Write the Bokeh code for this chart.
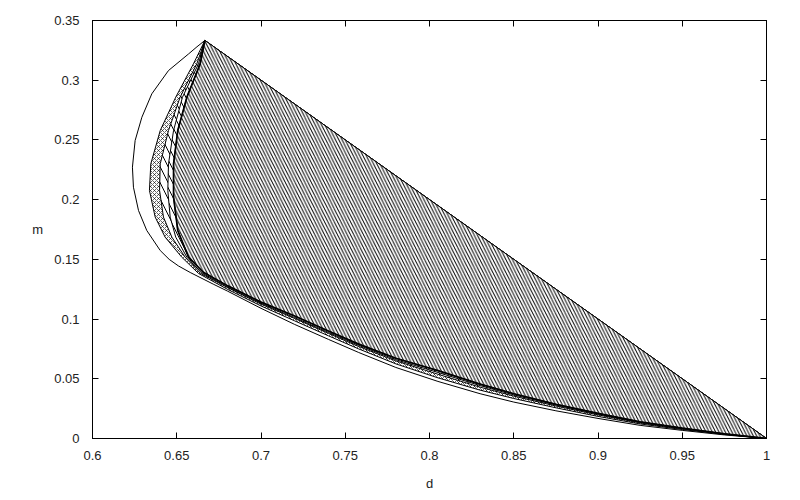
from bokeh.plotting import figure
from bokeh.models import FixedTicker, LinearAxis, Label, Range1d
from bokeh.embed import file_html
from bokeh.resources import INLINE

# ---- data ----
x_ticks = [0.6, 0.65, 0.7, 0.75, 0.8, 0.85, 0.9, 0.95, 1.0]
x_tick_labels = ["0.6", "0.65", "0.7", "0.75", "0.8", "0.85", "0.9", "0.95", "1"]
y_ticks = [0.0, 0.05, 0.1, 0.15, 0.2, 0.25, 0.3, 0.35]
y_tick_labels = ["0", "0.05", "0.1", "0.15", "0.2", "0.25", "0.3", "0.35"]

# lower-branch d positions shared by all curves
low_d = [0.68, 0.70, 0.72, 0.74, 0.758, 0.78, 0.805, 0.83, 0.85, 0.875, 0.9, 0.925, 0.95, 0.975, 1.0]

# outermost curve (outline only)
a_up_d = [0.6667, 0.662, 0.657, 0.6451, 0.6352, 0.6293, 0.6253, 0.6237, 0.6243, 0.6273, 0.6322,
          0.6402, 0.6455, 0.651, 0.658, 0.665, 0.672]
a_up_m = [0.3333, 0.328, 0.322, 0.3081, 0.2886, 0.269, 0.2495, 0.2272, 0.2104, 0.1909, 0.1742,
          0.1574, 0.150, 0.1445, 0.139, 0.134, 0.129]
a_low_m = [0.1235, 0.109, 0.0955, 0.083, 0.072, 0.0595, 0.0478, 0.0375, 0.0305, 0.0232, 0.0168,
           0.011, 0.0068, 0.003, 0.0]

# second curve (cross-hatched region)
b_up_d = [0.6667, 0.6599, 0.6494, 0.6402, 0.6346, 0.6338, 0.6372, 0.6431, 0.653, 0.6629]
b_up_m = [0.3333, 0.3137, 0.2858, 0.2579, 0.23, 0.2077, 0.1854, 0.1686, 0.1518, 0.1382]
b_low_m = [0.125, 0.111, 0.0985, 0.086, 0.075, 0.0625, 0.0508, 0.0405, 0.0335, 0.0257, 0.0185,
           0.0122, 0.0075, 0.0034, 0.0]

# third curve (sparse hatch region)
c_up_d = [0.6667, 0.6619, 0.652, 0.6451, 0.6402, 0.6398, 0.6421, 0.6471, 0.655, 0.6639]
c_up_m = [0.3333, 0.3137, 0.2858, 0.2579, 0.23, 0.2077, 0.1854, 0.1686, 0.1518, 0.1385]
c_low_m = [0.1265, 0.1125, 0.1005, 0.088, 0.077, 0.065, 0.0538, 0.043, 0.0355, 0.0272, 0.0198,
           0.0131, 0.0081, 0.0037, 0.0]

# fourth curve
d_up_d = [0.6667, 0.6629, 0.6534, 0.6481, 0.6451, 0.6447, 0.6461, 0.6494, 0.656, 0.6645]
d_up_m = [0.3333, 0.3137, 0.2858, 0.2579, 0.23, 0.2077, 0.1854, 0.1686, 0.1518, 0.139]
d_low_m = [0.127, 0.1132, 0.1012, 0.0888, 0.078, 0.066, 0.0553, 0.0443, 0.0365, 0.028, 0.0205,
           0.0135, 0.0084, 0.0038, 0.0]

# innermost curve (densely hatched region, closed by the line m = 1 - d)
e_up_d = [0.6667, 0.6639, 0.656, 0.6506, 0.6481, 0.6481, 0.6506, 0.657, 0.6655]
e_up_m = [0.3333, 0.3137, 0.2858, 0.2579, 0.23, 0.2021, 0.1742, 0.1518, 0.1395]
e_low_m = [0.128, 0.1142, 0.1025, 0.09, 0.079, 0.0672, 0.0568, 0.0455, 0.0375, 0.0287, 0.021,
           0.0139, 0.0087, 0.004, 0.0]

FONT = "Liberation Sans"
TXT = "#222222"

p = figure(width=790, height=494, output_backend="svg", toolbar_location=None,
           x_range=Range1d(0.6, 1.0), y_range=Range1d(0.0, 0.35),
           min_border_left=92, min_border_right=24, min_border_top=20, min_border_bottom=56)
p.grid.visible = False
p.outline_line_color = "black"
p.outline_line_width = 1
p.background_fill_color = "white"
p.border_fill_color = "white"

# outer outline, then filled regions from outside in
p.line(a_up_d + low_d, a_up_m + a_low_m, line_color="black", line_width=1)
p.patch(b_up_d + low_d, b_up_m + b_low_m, fill_color="white", line_color="black", line_width=1,
        hatch_pattern="x", hatch_scale=4, hatch_weight=0.6, hatch_color="black")
p.patch(c_up_d + low_d, c_up_m + c_low_m, fill_color="white", line_color="black", line_width=1,
        hatch_pattern="\\", hatch_scale=16, hatch_weight=1, hatch_color="black")
p.patch(d_up_d + low_d, d_up_m + d_low_m, fill_color="white", line_color="black", line_width=1,
        hatch_pattern="\\", hatch_scale=14, hatch_weight=1, hatch_color="black")
p.patch(e_up_d + low_d, e_up_m + e_low_m, fill_color="white", line_color="black", line_width=1,
        hatch_pattern="\\", hatch_scale=6.5, hatch_weight=1, hatch_color="black")
p.line(e_up_d + low_d, e_up_m + e_low_m, line_color="black", line_width=1.7)

for ax in (p.xaxis[0], p.yaxis[0]):
    ax.major_tick_in = 6
    ax.major_tick_out = 0
    ax.minor_tick_line_color = None
    ax.axis_line_color = "black"
    ax.major_tick_line_color = "black"
    ax.major_label_text_font = FONT
    ax.major_label_text_font_size = "13px"
    ax.major_label_text_color = TXT

p.xaxis[0].ticker = FixedTicker(ticks=x_ticks)
p.xaxis[0].major_label_overrides = {t: l for t, l in zip(x_ticks, x_tick_labels)}
p.xaxis[0].major_label_standoff = 12
p.xaxis[0].axis_label = "d"
p.xaxis[0].axis_label_text_font = FONT
p.xaxis[0].axis_label_text_font_size = "13px"
p.xaxis[0].axis_label_text_font_style = "normal"
p.xaxis[0].axis_label_text_color = TXT
p.xaxis[0].axis_label_standoff = 13

yax = p.yaxis[0]
yax.ticker = FixedTicker(ticks=y_ticks)
yax.major_label_overrides = {t: l for t, l in zip(y_ticks, y_tick_labels)}
yax.major_label_standoff = 13

# horizontal y-axis title, as gnuplot draws it
if "axis_label_orientation" in yax.properties():
    yax.axis_label = "m"
    yax.axis_label_orientation = "horizontal"
    yax.axis_label_text_font = FONT
    yax.axis_label_text_font_size = "13px"
    yax.axis_label_text_font_style = "normal"
    yax.axis_label_text_color = TXT
    yax.axis_label_standoff = 8
else:
    p.add_layout(Label(x=0.5668, y=0.178, text="m", level="overlay",
                       text_font=FONT, text_font_size="13px", text_color=TXT,
                       text_align="center", text_baseline="middle"))

# mirrored inward ticks on the top and right borders
ax_r = LinearAxis(ticker=FixedTicker(ticks=y_ticks),
                  major_label_overrides={t: "" for t in y_ticks},
                  major_tick_in=6, major_tick_out=0, minor_tick_line_color=None,
                  axis_line_color="black", major_label_standoff=0)
p.add_layout(ax_r, "right")
ax_t = LinearAxis(ticker=FixedTicker(ticks=x_ticks),
                  major_label_overrides={t: "" for t in x_ticks},
                  major_tick_in=6, major_tick_out=0, minor_tick_line_color=None,
                  axis_line_color="black", major_label_standoff=0)
p.add_layout(ax_t, "above")

open("out.html", "w").write(file_html(p, INLINE))
